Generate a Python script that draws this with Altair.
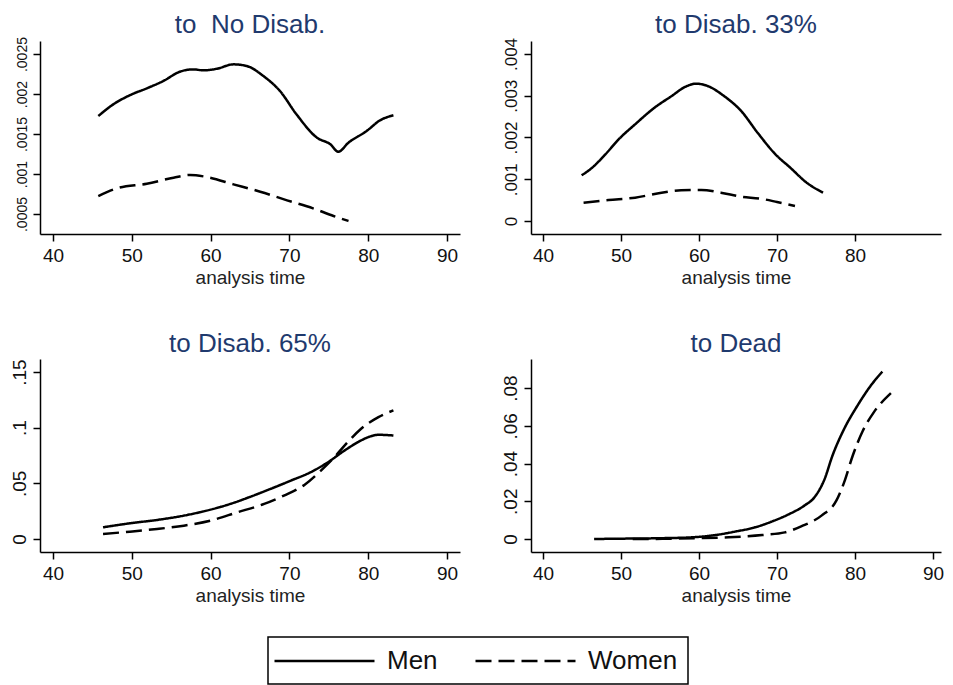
import altair as alt
import pandas as pd

# panel titles (double space kept in the first one)
titles = ["to\u00a0 No Disab.", "to Disab. 33%", "to Disab. 65%", "to Dead"]
sexes = ["Men", "Women"]

# to No Disab.
p1_men_age = [45.75, 47.65, 50, 51.9, 54, 56.1, 57.8, 59.1, 60.8, 62.9, 64.6,
              66.7, 68.8, 70.9, 73.5, 75.2, 76.2, 77.5, 79.8, 81.5, 83.2]
p1_men_val = [0.001725, 0.001871, 0.001996, 0.002071, 0.002163, 0.002279,
              0.002308, 0.002296, 0.002316, 0.002371, 0.00235, 0.002225,
              0.002038, 0.001746, 0.001454, 0.001371, 0.001279, 0.001392,
              0.001538, 0.001671, 0.001734]
p1_wom_age = [45.75, 48.1, 51.9, 55.3, 57.4, 59.5, 62.9, 66.3, 69.7, 73.0, 75.6, 77.5]
p1_wom_val = [0.000725, 0.000821, 0.000879, 0.000954, 0.000988, 0.000963,
              0.000871, 0.000779, 0.000671, 0.000571, 0.000475, 0.000413]

# to Disab. 33%
p2_men_age = [44.95, 46.3, 48, 49.7, 51.8, 54.3, 56.5, 58.2, 59.6, 61.1, 63.2,
              65.4, 67.5, 69.8, 71.7, 73.8, 75.9]
p2_men_val = [0.001094, 0.001277, 0.001597, 0.001956, 0.002315, 0.002715,
              0.002994, 0.00321, 0.003289, 0.003234, 0.002994, 0.002635,
              0.002116, 0.001597, 0.001277, 0.000918, 0.000679]
p2_wom_age = [45.2, 48.4, 51.8, 55.2, 57.7, 60.3, 62.8, 65.4, 67.9, 70.0, 72.3]
p2_wom_val = [0.000439, 0.000503, 0.000559, 0.000679, 0.000735, 0.000743,
              0.000679, 0.000583, 0.000535, 0.000455, 0.000359]

# to Disab. 65%
p3_men_age = [46.35, 49.75, 53.2, 56.6, 60, 62.5, 65.1, 67.6, 70.2, 72.7, 74.9,
              77, 78.7, 80, 81.3, 83.2]
p3_men_val = [0.0105, 0.0141, 0.0171, 0.021, 0.0264, 0.0315, 0.0381, 0.045,
              0.0525, 0.06, 0.069, 0.0795, 0.087, 0.0915, 0.0936, 0.093]
p3_wom_age = [46.35, 49.75, 53.2, 56.6, 60, 63.4, 66.8, 69.3, 71.9, 74, 75.7,
              77.4, 79.1, 81.3, 83.2]
p3_wom_val = [0.0045, 0.0066, 0.009, 0.012, 0.0165, 0.024, 0.0315, 0.039,
              0.0486, 0.0615, 0.0735, 0.087, 0.099, 0.1095, 0.1155]

# to Dead
p4_men_age = [46.55, 50.6, 54.8, 59.1, 62.1, 64.6, 67.2, 69.3, 71.4, 73.5, 74.8,
              76.1, 77.1, 78.6, 80.3, 82, 83.5]
p4_men_val = [0.0, 0.0002, 0.0004, 0.0009, 0.0021, 0.0039, 0.0062, 0.0092,
              0.0129, 0.0177, 0.0221, 0.0318, 0.0441, 0.0583, 0.0706, 0.0812, 0.0887]
p4_wom_age = [51.5, 55.3, 59.6, 63.8, 68.1, 71, 73.1, 75.7, 77.6, 78.6, 79.7,
              81, 82.4, 84.6]
p4_wom_val = [0.0, 0.0001, 0.0004, 0.0009, 0.0021, 0.0035, 0.0067, 0.0124,
              0.0203, 0.03, 0.0441, 0.0574, 0.0671, 0.0773]

series = [
    (0, "Men", p1_men_age, p1_men_val), (0, "Women", p1_wom_age, p1_wom_val),
    (1, "Men", p2_men_age, p2_men_val), (1, "Women", p2_wom_age, p2_wom_val),
    (2, "Men", p3_men_age, p3_men_val), (2, "Women", p3_wom_age, p3_wom_val),
    (3, "Men", p4_men_age, p4_men_val), (3, "Women", p4_wom_age, p4_wom_val),
]
rows = []
for p, sex, ages, vals in series:
    for a, v in zip(ages, vals):
        rows.append({"panel": p, "sex": sex, "age": a, "value": v})
df = pd.DataFrame(rows)

y_domains = [[0.00025, 0.002663], [-0.000311, 0.004311], [-0.01168, 0.1617], [-0.00689, 0.0954]]
y_ticks = [[0.0005, 0.001, 0.0015, 0.002, 0.0025], [0, 0.001, 0.002, 0.003, 0.004],
           [0, 0.05, 0.1, 0.15], [0, 0.02, 0.04, 0.06, 0.08]]
y_label_size = [14, 17, 19, 19]
x_domains = [[38.35, 91.65], [38.46, 91.02], [38.35, 91.65], [38.46, 91.02]]
x_ticks = [[40, 50, 60, 70, 80, 90], [40, 50, 60, 70, 80],
           [40, 50, 60, 70, 80, 90], [40, 50, 60, 70, 80, 90]]
widths = [420, 410, 420, 410]
title_offsets = [-1, -1, 2, 2]

dash = alt.StrokeDash(
    "sex:N",
    scale=alt.Scale(domain=sexes, range=[[1, 0], [16, 7]]),
    legend=alt.Legend(title=None),
)


def panel(i):
    return alt.Chart(df, title=alt.Title(titles[i], offset=title_offsets[i])).transform_filter(
        alt.datum.panel == i
    ).mark_line(color="black", strokeWidth=2.5, interpolate="monotone").encode(
        x=alt.X("age:Q", title="analysis time",
                scale=alt.Scale(domain=x_domains[i], nice=False, zero=False),
                axis=alt.Axis(values=x_ticks[i])),
        y=alt.Y("value:Q", title=None,
                scale=alt.Scale(domain=y_domains[i], nice=False, zero=False),
                axis=alt.Axis(values=y_ticks[i], labelAngle=-90,
                              labelFontSize=y_label_size[i],
                              labelExpr="datum.value == 0 ? '0' : substring(toString(datum.value), 1)")),
        strokeDash=dash,
    ).properties(width=widths[i], height=193)


chart = alt.vconcat(
    alt.hconcat(panel(0), panel(1), spacing=39),
    alt.hconcat(panel(2), panel(3), spacing=39),
    spacing=43,
).resolve_scale(strokeDash="shared").resolve_legend(strokeDash="shared").properties(
    padding={"top": 3, "left": 0, "right": 0, "bottom": 0},
    background="white",
).configure_view(
    stroke=None,
).configure_axis(
    grid=False,
    domainColor="black",
    domainWidth=1.5,
    tickColor="black",
    tickWidth=1.5,
    tickSize=7,
    labelFont="Liberation Sans",
    labelColor="#111111",
    labelFontSize=19,
    labelPadding=5,
    titleFont="Liberation Sans",
    titleFontSize=19,
    titleFontWeight="normal",
    titleColor="#222222",
    titlePadding=3,
).configure_axisY(
    minExtent=32,
    maxExtent=32,
    labelPadding=4,
).configure_title(
    font="Liberation Sans",
    fontSize=26,
    fontWeight="normal",
    color="#1f3a6e",
).configure_legend(
    orient="none",
    legendX=228,
    legendY=596,
    direction="horizontal",
    strokeColor="black",
    strokeWidth=1.5,
    padding=10,
    symbolType="M-1.4,0H6.6",
    symbolSize=625,
    symbolStrokeWidth=2.5,
    symbolStrokeColor="black",
    labelFont="Liberation Sans",
    labelFontSize=26,
    labelColor="#111111",
    labelOffset=81,
    columnPadding=32,
)

chart.save("out.html", embed_options={"renderer": "svg", "actions": False})
